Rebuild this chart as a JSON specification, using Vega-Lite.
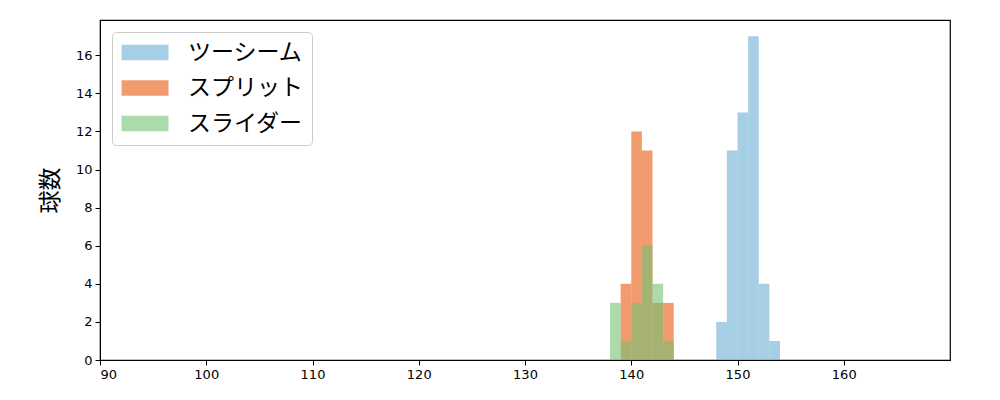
{
  "$schema": "https://vega.github.io/schema/vega-lite/v6.json",
  "width": 850,
  "height": 340,
  "autosize": {"type": "none"},
  "padding": {"left": 100, "top": 20, "right": 50, "bottom": 40},
  "background": "white",
  "config": {
    "view": {"stroke": "black", "strokeWidth": 1.2},
    "font": "DejaVu Sans"
  },
  "data": {
    "values": [
      {"球種": "ツーシーム", "start": 148, "end": 149, "count": 2},
      {"球種": "ツーシーム", "start": 149, "end": 150, "count": 11},
      {"球種": "ツーシーム", "start": 150, "end": 151, "count": 13},
      {"球種": "ツーシーム", "start": 151, "end": 152, "count": 17},
      {"球種": "ツーシーム", "start": 152, "end": 153, "count": 4},
      {"球種": "ツーシーム", "start": 153, "end": 154, "count": 1},
      {"球種": "スプリット", "start": 139, "end": 140, "count": 4},
      {"球種": "スプリット", "start": 140, "end": 141, "count": 12},
      {"球種": "スプリット", "start": 141, "end": 142, "count": 11},
      {"球種": "スプリット", "start": 142, "end": 143, "count": 3},
      {"球種": "スプリット", "start": 143, "end": 144, "count": 3},
      {"球種": "スライダー", "start": 138, "end": 139, "count": 3},
      {"球種": "スライダー", "start": 139, "end": 140, "count": 1},
      {"球種": "スライダー", "start": 140, "end": 141, "count": 3},
      {"球種": "スライダー", "start": 141, "end": 142, "count": 6},
      {"球種": "スライダー", "start": 142, "end": 143, "count": 4},
      {"球種": "スライダー", "start": 143, "end": 144, "count": 1}
    ]
  },
  "mark": {"type": "bar", "opacity": 0.6, "stroke": null},
  "encoding": {
    "x": {
      "field": "start",
      "type": "quantitative",
      "scale": {"domain": [90, 170], "nice": false, "zero": false},
      "axis": {
        "title": null,
        "values": [90, 100, 110, 120, 130, 140, 150, 160],
        "grid": false,
        "domainColor": "black",
        "tickColor": "black",
        "tickSize": 5,
        "labelColor": "black",
        "labelFontSize": 13,
        "labelPadding": 3
      }
    },
    "x2": {"field": "end"},
    "y": {
      "field": "count",
      "type": "quantitative",
      "scale": {"domain": [0, 17.85], "nice": false},
      "axis": {
        "title": "球数",
        "titleFont": "Noto Sans CJK JP",
        "titleFontSize": 23,
        "titleFontWeight": "normal",
        "titleColor": "black",
        "titlePadding": 13,
        "values": [0, 2, 4, 6, 8, 10, 12, 14, 16],
        "grid": false,
        "domainColor": "black",
        "tickColor": "black",
        "tickSize": 5,
        "labelColor": "black",
        "labelFontSize": 13,
        "labelPadding": 3
      }
    },
    "y2": {"datum": 0},
    "color": {
      "field": "球種",
      "type": "nominal",
      "sort": ["ツーシーム", "スプリット", "スライダー"],
      "scale": {
        "domain": ["ツーシーム", "スプリット", "スライダー"],
        "range": ["#6badd2", "#e8580f", "#75c173"]
      },
      "legend": {
        "title": null,
        "orient": "top-left",
        "offset": 12,
        "padding": 9,
        "fillColor": "white",
        "strokeColor": "#cccccc",
        "cornerRadius": 4,
        "labelFont": "Noto Sans CJK JP",
        "labelFontSize": 23,
        "labelColor": "black",
        "labelOffset": 44,
        "symbolType": "M-1.4,-1H4.6V1H-1.4Z",
        "symbolSize": 245,
        "symbolOpacity": 0.6,
        "symbolStrokeWidth": 0,
        "rowPadding": 11.5
      }
    }
  }
}
